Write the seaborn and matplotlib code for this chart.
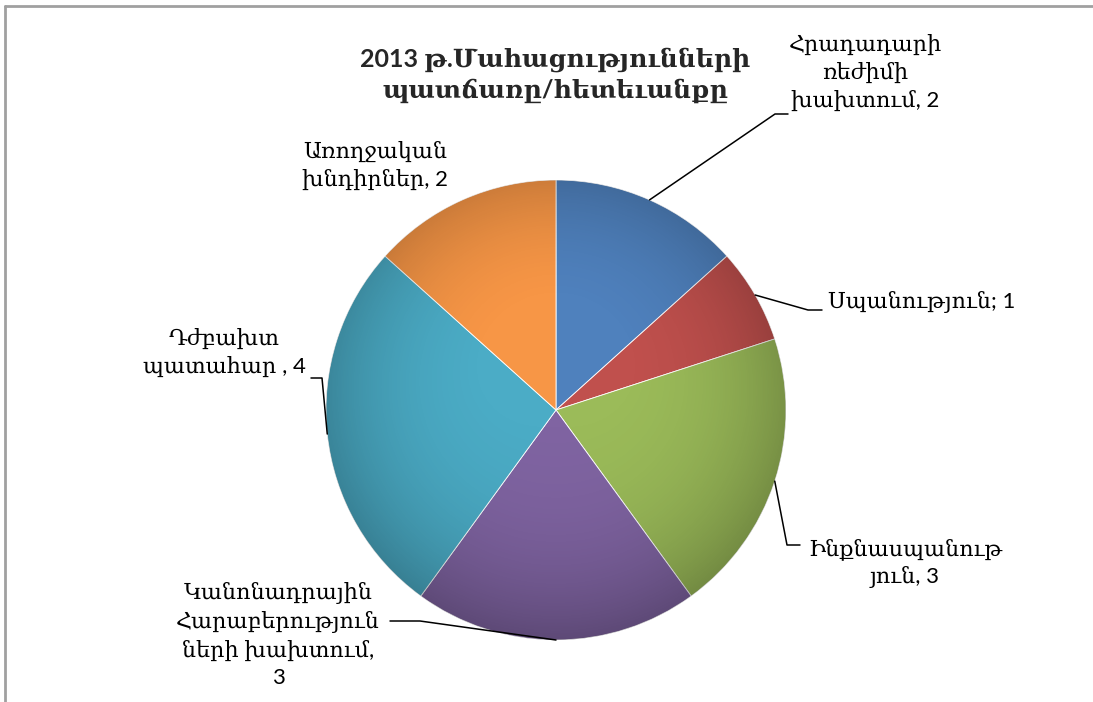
import numpy as np
import matplotlib.pyplot as plt
import seaborn as sns
from matplotlib.lines import Line2D
from matplotlib.patches import Circle

sns.set_style("white")
plt.rcParams['font.family'] = ['Lato', 'DejaVu Serif']

# Data
title = "2013 թ.Մահացությունների\nպատճառը/հետեւանքը"
labels = [
    "Հրադադարի\nռեժիմի\nխախտում, 2",
    "Սպանություն; 1",
    "Ինքնասպանութ\nյուն, 3",
    "Կանոնադրային\nՀարաբերություն\nների խախտում,\n3",
    "Դժբախտ\nպատահար , 4",
    "Առողջական\nխնդիրներ, 2",
]
values = [2, 1, 3, 3, 4, 2]
colors = ['#4F81BD', '#C0504D', '#9BBB59', '#8064A2', '#4BACC6', '#F79646']

W, H = 1093, 702
CX, CY, R = 556, 410, 230


def px(x, y):
    # pixel position -> pie data coords
    return ((x - CX) / R, (CY - y) / R)


fig = plt.figure(figsize=(W / 100, H / 100), dpi=100)
ax = fig.add_axes([(CX - R) / W, (H - CY - R) / H, 2 * R / W, 2 * R / H])

wedges, _ = ax.pie(values, colors=colors, startangle=90, counterclock=False,
                   radius=1, wedgeprops=dict(edgecolor='white', linewidth=0.6))

# soft shading towards the rim
yy, xx = np.mgrid[-1:1:400j, -1:1:400j]
rr = np.sqrt(xx ** 2 + yy ** 2)
shade = np.zeros((400, 400, 4))
shade[..., 3] = np.clip(0.22 * rr ** 3 - 0.05 * yy, 0, 0.3)
im = ax.imshow(shade, extent=[-1, 1, -1, 1], origin='lower', zorder=3)
im.set_clip_path(Circle((0, 0), 1, transform=ax.transData))

ax.set_xlim(-1, 1)
ax.set_ylim(-1, 1)
ax.set_aspect('equal')
ax.axis('off')

# label layout: text position, alignment, leader knee and end (pixels)
layout = [
    ((865, 72), 'center', (775, 114), (788, 114)),
    ((828, 302), 'left', (808, 310), (822, 310)),
    ((905, 563), 'center', (787, 545), (800, 545)),
    ((278, 635), 'center', (420, 621), (390, 621)),
    ((224, 352), 'center', (322, 378), (311, 378)),
    ((375, 165), 'center', None, None),
]

for w, lab, (tpos, ha, knee, end) in zip(wedges, labels, layout):
    tx, ty = px(*tpos)
    ax.text(tx, ty, lab, ha=ha, va='center', multialignment='center',
            fontsize=16, color='black', linespacing=1.4, clip_on=False)
    if knee is not None:
        mid = np.deg2rad((w.theta1 + w.theta2) / 2)
        p0 = (np.cos(mid), np.sin(mid))
        k = px(*knee)
        e = px(*end)
        ax.plot([p0[0], k[0], e[0]], [p0[1], k[1], e[1]], color='black',
                lw=1.1, clip_on=False, zorder=5)

tx, ty = px(555, 75)
ax.text(tx, ty, title, ha='center', va='center', multialignment='center',
        fontsize=18, fontweight='bold', linespacing=1.35, clip_on=False)

# chart area border (top and left)
fig.add_artist(Line2D([5 / W, 1], [1 - 6 / H, 1 - 6 / H], color='#A0A0A0', lw=2))
fig.add_artist(Line2D([5 / W, 5 / W], [0, 1 - 6 / H], color='#A0A0A0', lw=2))

fig.savefig('out.png', dpi=100)
